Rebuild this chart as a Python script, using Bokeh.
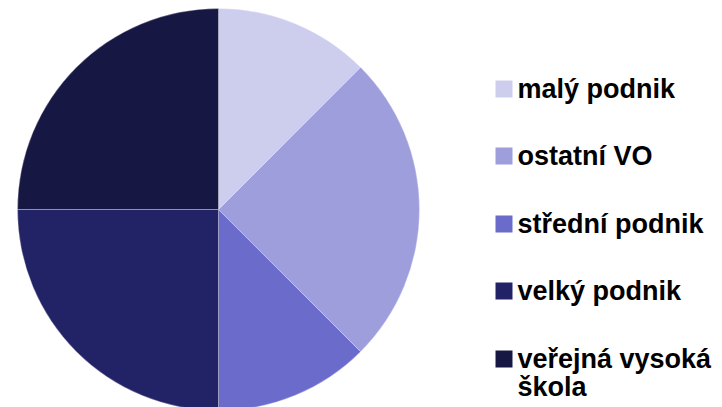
import numpy as np
from bokeh.plotting import figure
from bokeh.models import ColumnDataSource, Range1d
from bokeh.core.properties import value
from bokeh.embed import file_html
from bokeh.resources import INLINE

categories = ["malý podnik", "ostatní VO", "střední podnik", "velký podnik", "veřejná vysoká škola"]
values = [1, 2, 1, 2, 2]
colors = ["#CDCDEE", "#9E9EDD", "#6B6BCC", "#222266", "#171744"]

W, H = 722, 407
p = figure(width=W, height=H, output_backend="svg", toolbar_location=None,
           x_range=Range1d(0, W), y_range=Range1d(0, H), min_border=0)
p.axis.visible = False
p.grid.visible = False
p.outline_line_color = None
p.background_fill_color = "white"
p.border_fill_color = "white"

vals = np.array(values, dtype=float)
frac = vals / vals.sum()
cum = np.concatenate([[0], np.cumsum(frac)])
start = np.pi / 2 - cum[1:] * 2 * np.pi
end = np.pi / 2 - cum[:-1] * 2 * np.pi

src = ColumnDataSource(dict(start=start, end=end, color=colors, cat=categories))
p.wedge(x=218, y=198, radius=201, start_angle="start", end_angle="end",
        fill_color="color", line_color="#ffffff", line_alpha=0.3, line_width=1,
        source=src)

# legend (layout in pixels)
square_y = [318.5, 251.5, 183.5, 116.5, 48.5]
line_step = 28
leg = ColumnDataSource(dict(y=square_y, color=colors))
p.rect(x=503.5, y="y", width=17, height=17, fill_color="color", line_color=None, source=leg)

tx, ty = [], []
for cat, sy in zip(categories, square_y):
    lines = cat.replace(" škola", "\nškola").split("\n")
    for i, ln in enumerate(lines):
        tx.append(ln)
        ty.append(sy - i * line_step)
txt = ColumnDataSource(dict(y=ty, label=tx))
p.text(x=517, y="y", text="label", source=txt, text_font=value("Liberation Sans"),
       text_font_style="bold", text_font_size="27px", text_baseline="middle",
       text_align="left", text_color="black")

open("out.html", "w").write(file_html(p, INLINE))
